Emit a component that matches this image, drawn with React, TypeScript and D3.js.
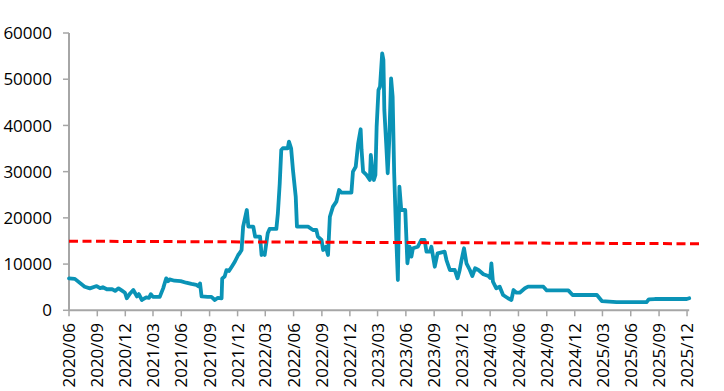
import * as d3 from "d3";

const dates: string[] = [
  "2020-06-01", "2020-06-20", "2020-07-22", "2020-08-08", "2020-08-30", "2020-09-10", "2020-09-19",
  "2020-10-02", "2020-10-19", "2020-10-29", "2020-11-09", "2020-11-19", "2020-11-30", "2020-12-06",
  "2020-12-16", "2020-12-27", "2021-01-08", "2021-01-14", "2021-01-24", "2021-02-07", "2021-02-16",
  "2021-02-22", "2021-03-01", "2021-03-23", "2021-04-03", "2021-04-08", "2021-04-13", "2021-04-19",
  "2021-04-24", "2021-05-10", "2021-05-30", "2021-06-17", "2021-07-04", "2021-07-20", "2021-07-27",
  "2021-08-01", "2021-08-06", "2021-08-26", "2021-09-07", "2021-09-18", "2021-09-28", "2021-10-10",
  "2021-10-12", "2021-10-20", "2021-10-26", "2021-11-03", "2021-11-12", "2021-11-22", "2021-12-03",
  "2021-12-08", "2021-12-14", "2021-12-19", "2021-12-31", "2022-01-05", "2022-01-21", "2022-01-27",
  "2022-02-12", "2022-02-17", "2022-02-21", "2022-02-27", "2022-03-09", "2022-03-15", "2022-04-06",
  "2022-04-11", "2022-04-17", "2022-04-22", "2022-04-27", "2022-05-13", "2022-05-17", "2022-05-24",
  "2022-05-30", "2022-06-08", "2022-06-12", "2022-06-21", "2022-07-18", "2022-08-03", "2022-08-14",
  "2022-08-19", "2022-08-31", "2022-09-05", "2022-09-14", "2022-09-21", "2022-09-27", "2022-10-07",
  "2022-10-18", "2022-10-27", "2022-11-04", "2022-12-06", "2022-12-11", "2022-12-20", "2022-12-28",
  "2023-01-05", "2023-01-08", "2023-01-13", "2023-01-24", "2023-02-04", "2023-02-07", "2023-02-12",
  "2023-02-17", "2023-02-22", "2023-02-26", "2023-03-04", "2023-03-09", "2023-03-16", "2023-03-20",
  "2023-03-23", "2023-03-29", "2023-04-03", "2023-04-08", "2023-04-14", "2023-04-19", "2023-04-24",
  "2023-05-01", "2023-05-06", "2023-05-11", "2023-05-17", "2023-05-30", "2023-06-06", "2023-06-13",
  "2023-06-19", "2023-06-24", "2023-07-10", "2023-07-21", "2023-08-01", "2023-08-07", "2023-08-18",
  "2023-08-23", "2023-09-03", "2023-09-12", "2023-10-05", "2023-10-11", "2023-10-22", "2023-11-07",
  "2023-11-16", "2023-11-23", "2023-11-29", "2023-12-07", "2023-12-15", "2023-12-26", "2024-01-03",
  "2024-01-12", "2024-01-23", "2024-02-08", "2024-02-24", "2024-03-01", "2024-03-05", "2024-03-10",
  "2024-03-21", "2024-04-01", "2024-04-12", "2024-04-28", "2024-05-09", "2024-05-16", "2024-05-25",
  "2024-06-05", "2024-06-22", "2024-07-02", "2024-08-21", "2024-09-01", "2024-11-10", "2024-11-24",
  "2025-02-11", "2025-02-27", "2025-04-16", "2025-07-22", "2025-07-30", "2025-08-18", "2025-11-30",
  "2025-12-08",
];

const values: number[] = [
  6900, 6800, 5100, 4750, 5250, 4800, 5000,
  4550, 4600, 4200, 4750, 4300, 3800, 2600,
  3600, 4400, 3000, 3500, 2230, 2800, 2700,
  3500, 2900, 2900, 4750, 5840, 6900, 6300,
  6700, 6400, 6300, 5970, 5700, 5480, 5200,
  5800, 3000, 2900, 2900, 2230, 2700, 2600,
  6900, 7300, 8700, 8500, 9430, 10500, 11970,
  12400, 13050, 18090, 21700, 18090, 18090, 15930,
  15930, 11970, 12500, 11970, 16660, 17600, 17600,
  21000, 27480, 34700, 35060, 35060, 36490, 35060,
  30360, 24580, 18090, 18090, 18090, 17380, 17380,
  15930, 15210, 13050, 13760, 11970, 20250, 22420,
  23500, 26030, 25450, 25450, 29990, 31070, 36140,
  39170, 34690, 29990, 29280, 28200, 33610, 30360,
  28200, 29280, 39730, 47670, 48390, 55600, 54170,
  43350, 36140, 29650, 36850, 50200, 46220, 29650,
  15210, 6560, 26750, 21700, 21700, 10170, 13760,
  11600, 13420, 13760, 15210, 15210, 12680, 12680,
  13760, 9430, 12330, 12680, 10880, 8720, 8720,
  6920, 8720, 10880, 13420, 10170, 8720, 7420,
  9090, 8720, 7800, 7420, 7000, 10170, 6190,
  4760, 5110, 3310, 2600, 2230, 4390, 3810,
  3810, 4760, 5110, 5110, 4300, 4300, 3310,
  3310, 2000, 1750, 1750, 2380, 2440, 2440,
  2600,
];

// red dashed reference line
const refDates: string[] = ["2020-06-01", "2026-01-13"];
const refValues: number[] = [14950, 14400];

const yTicks: number[] = [0, 10000, 20000, 30000, 40000, 50000, 60000];

const width = 724;
const height = 391;
const margin = { top: 33, left: 69 };
const plotBottom = 310.3;
const xEndPx = 689.2;

export default function App() {
  const parse = d3.timeParse("%Y-%m-%d");
  const points = dates.map((d, i) => ({ date: parse(d) as Date, value: values[i] }));
  const refPoints = refDates.map((d, i) => ({ date: parse(d) as Date, value: refValues[i] }));

  const x = d3
    .scaleTime()
    .domain([parse("2020-06-01") as Date, parse("2025-12-08") as Date])
    .range([margin.left, xEndPx]);
  const y = d3.scaleLinear().domain([0, 60000]).range([plotBottom, margin.top]);

  const line = d3
    .line<{ date: Date; value: number }>()
    .x((d) => x(d.date))
    .y((d) => y(d.value));

  // quarterly ticks starting at 2020/06
  const xTicks = d3.timeMonth.range(parse("2020-06-01") as Date, parse("2025-12-02") as Date, 3);
  const fmt = d3.timeFormat("%Y/%m");

  const font = "'Open Sans', 'Noto Sans', sans-serif";
  const axisColor = "#a6a6a6";

  return (
    <svg
      width={width}
      height={height}
      style={{ position: "absolute", left: 0, top: 0, background: "#fff" }}
      fontFamily={font}
    >
      {/* y axis */}
      <line x1={margin.left} x2={margin.left} y1={margin.top} y2={plotBottom} stroke={axisColor} strokeWidth={2} />
      {yTicks.map((t) => (
        <g key={t}>
          <line x1={margin.left - 6} x2={margin.left} y1={y(t)} y2={y(t)} stroke={axisColor} strokeWidth={1.5} />
          <text x={52} y={y(t)} dy="0.36em" textAnchor="end" fontSize={17} fill="#000">
            {t}
          </text>
        </g>
      ))}

      {/* x axis */}
      <line x1={margin.left} x2={xEndPx} y1={plotBottom} y2={plotBottom} stroke={axisColor} strokeWidth={2} />
      {xTicks.map((t) => (
        <g key={t.toISOString()}>
          <line x1={x(t)} x2={x(t)} y1={plotBottom} y2={plotBottom + 6} stroke={axisColor} strokeWidth={1.5} />
          <text
            transform={`translate(${x(t)},${323}) rotate(-90)`}
            dy="0.36em"
            textAnchor="end"
            fontSize={17}
            fill="#000"
          >
            {fmt(t)}
          </text>
        </g>
      ))}

      {/* series */}
      <path
        d={line(points) ?? ""}
        fill="none"
        stroke="#0a93b6"
        strokeWidth={3.8}
        strokeLinejoin="round"
        strokeLinecap="round"
      />

      {/* reference line */}
      <path d={line(refPoints) ?? ""} fill="none" stroke="#ff0000" strokeWidth={3} strokeDasharray="9,4.5" />
    </svg>
  );
}
